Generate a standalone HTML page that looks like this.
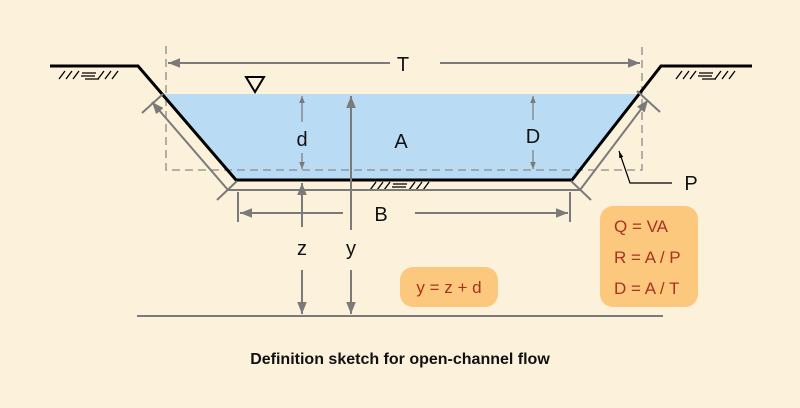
<!DOCTYPE html>
<html><head><meta charset="utf-8"><style>
html,body{margin:0;padding:0;background:#fcf1db;}
svg{display:block;}
text{font-family:"Liberation Sans",sans-serif;}
</style></head><body>
<svg width="800" height="408" viewBox="0 0 800 408" xmlns="http://www.w3.org/2000/svg">
<defs>
<marker id="ah" viewBox="0 0 10 10" refX="10" refY="5" markerWidth="7" markerHeight="7" markerUnits="userSpaceOnUse" orient="auto-start-reverse">
<path d="M0,1 L10,5 L0,9 z" fill="#7a7a7a"/></marker>
<marker id="ahs" viewBox="0 0 10 10" refX="10" refY="5" markerWidth="12" markerHeight="12" markerUnits="userSpaceOnUse" orient="auto-start-reverse">
<path d="M0,1 L10,5 L0,9 z" fill="#7a7a7a"/></marker>
<marker id="ak" viewBox="0 0 10 10" refX="10" refY="5" markerWidth="7" markerHeight="7" markerUnits="userSpaceOnUse" orient="auto">
<path d="M0,2 L10,5 L0,8 z" fill="#000"/></marker>
</defs>
<rect width="800" height="408" fill="#fcf1db"/>
<polygon points="163,94 637,94 572,180 236,180" fill="#b9dbf3"/>
<path d="M166,46 V170 H642 V46" fill="none" stroke="#8a8a8a" stroke-width="1.3" stroke-dasharray="8,5"/>
<polyline points="50,66 138,66 236,180 572,180 661,66 752,66" fill="none" stroke="#000" stroke-width="3"/>
<g stroke="#000" stroke-width="1.3">
<path d="M59,79 L65,71 M66,79 L72,71 M73,79 L79,71 M82,73 H96 M81,76 H95 M85,79 H99 M98,79 L104,71 M105,79 L111,71 M112,79 L118,71"/>
<path d="M676,79 L682,71 M683,79 L689,71 M690,79 L696,71 M699,73 H713 M698,76 H712 M702,79 H716 M715,79 L721,71 M722,79 L728,71 M729,79 L735,71"/>
<path d="M370,190 L376,182 M377,190 L383,182 M384,190 L390,182 M393,184 H407 M392,187 H406 M396,190 H410 M409,190 L415,182 M416,190 L422,182 M423,190 L429,182"/>
</g>
<polygon points="246,77 264,77 255,92" fill="none" stroke="#000" stroke-width="2"/>
<g stroke="#7a7a7a" stroke-width="2" fill="none">
<line x1="390" y1="63" x2="168" y2="63" marker-end="url(#ahs)"/>
<line x1="440" y1="63" x2="640" y2="63" marker-end="url(#ahs)"/>
<line x1="228" y1="190" x2="580" y2="190"/>
<line x1="238" y1="192" x2="238" y2="222"/>
<line x1="570" y1="192" x2="570" y2="222"/>
<line x1="343" y1="213" x2="240" y2="213" marker-end="url(#ahs)"/>
<line x1="415" y1="213" x2="568" y2="213" marker-end="url(#ahs)"/>
<line x1="228" y1="190" x2="152" y2="102" marker-end="url(#ahs)"/>
<line x1="142" y1="113" x2="163" y2="94"/>
<line x1="217" y1="200" x2="237" y2="181"/>
<line x1="580" y1="190" x2="648" y2="100" marker-end="url(#ahs)"/>
<line x1="637" y1="91" x2="660" y2="112"/>
<line x1="571" y1="181" x2="591" y2="200"/>
<line x1="351" y1="230" x2="351" y2="96" marker-end="url(#ahs)"/>
<line x1="351" y1="270" x2="351" y2="314" marker-end="url(#ahs)"/>
<line x1="302" y1="227" x2="302" y2="183" marker-end="url(#ahs)"/>
<line x1="302" y1="270" x2="302" y2="314" marker-end="url(#ahs)"/>
<line x1="137" y1="316" x2="663" y2="316" stroke-width="2"/>
</g>
<g stroke="#7a7a7a" stroke-width="1.2" fill="none">
<line x1="302" y1="122" x2="302" y2="96" marker-end="url(#ah)"/>
<line x1="302" y1="153" x2="302" y2="169" marker-end="url(#ah)"/>
<line x1="533" y1="120" x2="533" y2="96" marker-end="url(#ah)"/>
<line x1="533" y1="150" x2="533" y2="169" marker-end="url(#ah)"/>
</g>
<path d="M672,183 H630 L619,151" fill="none" stroke="#000" stroke-width="1.2" marker-end="url(#ak)"/>
<g font-size="20" fill="#111" text-anchor="middle">
<text x="403" y="71">T</text>
<text x="302" y="146">d</text>
<text x="401" y="148">A</text>
<text x="533" y="143">D</text>
<text x="381" y="221">B</text>
<text x="302" y="255">z</text>
<text x="351" y="255">y</text>
<text x="691" y="190">P</text>
</g>
<rect x="600" y="206" width="98" height="101" rx="13" fill="#fcc87d"/>
<rect x="400" y="267" width="98" height="40" rx="13" fill="#fcc87d"/>
<g font-size="17" fill="#a8331e">
<text x="614" y="232">Q = VA</text>
<text x="614" y="263">R = A / P</text>
<text x="614" y="294">D = A / T</text>
<text x="449" y="293" text-anchor="middle">y = z + d</text>
</g>
<text x="400" y="364" font-size="16" font-weight="bold" text-anchor="middle" fill="#111">Definition sketch for open-channel flow</text>
</svg>
</body></html>
